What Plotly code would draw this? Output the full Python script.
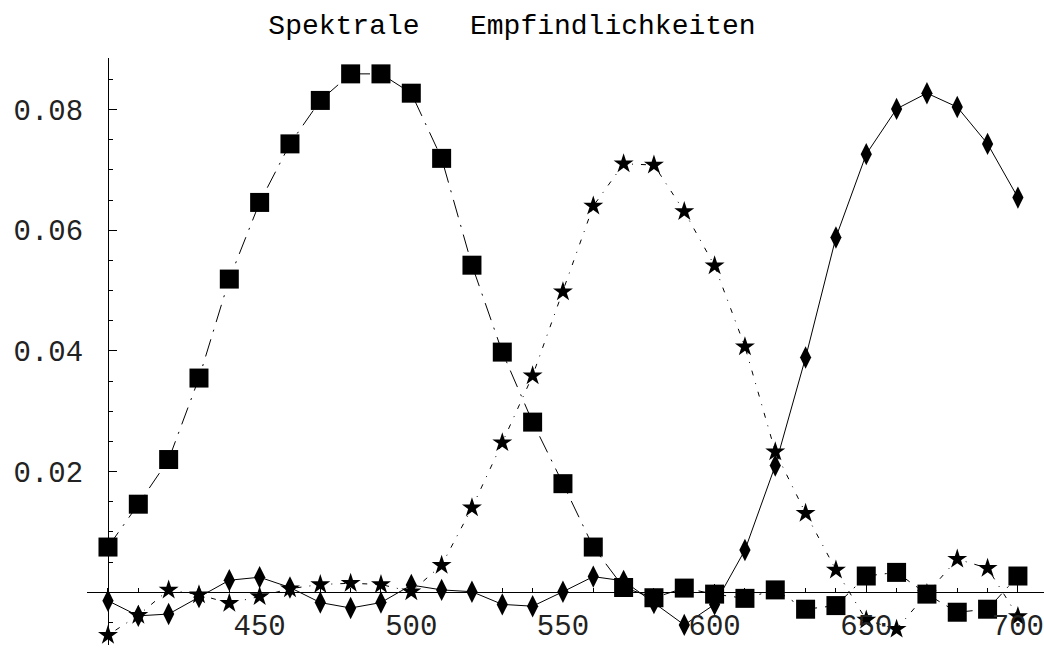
import plotly.graph_objects as go

# Wavelengths (nm)
wavelength = [400, 410, 420, 430, 440, 450, 460, 470, 480, 490, 500,
              510, 520, 530, 540, 550, 560, 570, 580, 590, 600,
              610, 620, 630, 640, 650, 660, 670, 680, 690, 700]

# Spectral sensitivity of the short-wavelength channel (squares)
sens_short = [0.0075, 0.0146, 0.0220, 0.0355, 0.0519, 0.0646, 0.0743, 0.0815, 0.0859, 0.0859, 0.0827,
              0.0719, 0.0542, 0.0398, 0.0282, 0.0180, 0.0075, 0.0008, -0.0009, 0.0007, -0.0003,
              -0.0010, 0.0004, -0.0028, -0.0022, 0.0027, 0.0033, -0.0003, -0.0033, -0.0028, 0.0027]

# Spectral sensitivity of the middle-wavelength channel (stars)
sens_mid = [-0.0071, -0.0038, 0.0004, -0.0004, -0.0018, -0.0007, 0.0006, 0.0013, 0.0015, 0.0013, 0.0001,
            0.0045, 0.0140, 0.0248, 0.0359, 0.0498, 0.0640, 0.0710, 0.0708, 0.0631, 0.0541,
            0.0407, 0.0233, 0.0131, 0.0037, -0.0046, -0.0061, -0.0002, 0.0055, 0.0040, -0.0040]

# Spectral sensitivity of the long-wavelength channel (diamonds)
sens_long = [-0.0014, -0.0039, -0.0036, -0.0008, 0.0020, 0.0025, 0.0008, -0.0017, -0.0026, -0.0017, 0.0012,
             0.0004, 0.0001, -0.0020, -0.0023, 0.0001, 0.0026, 0.0019, -0.0018, -0.0054, -0.0020,
             0.0070, 0.0210, 0.0389, 0.0588, 0.0726, 0.0801, 0.0827, 0.0804, 0.0743, 0.0654]

x_ticks = [450, 500, 550, 600, 650, 700]
y_ticks = [0.02, 0.04, 0.06, 0.08]
y_tick_text = ["0.02", "0.04", "0.06", "0.08"]

x_range = [393.08, 708.6]
y_range = [-0.00873, 0.08853]

tick_font = dict(family="Liberation Mono", size=29, color="#222222")

fig = go.Figure()

fig.add_trace(go.Scatter(
    x=wavelength, y=sens_short, mode="lines+markers",
    line=dict(color="black", width=1, dash="18px,8px,2px,8px"),
    marker=dict(symbol="square", size=19, color="black"),
    cliponaxis=False, showlegend=False,
))
fig.add_trace(go.Scatter(
    x=wavelength, y=sens_mid, mode="lines+markers",
    line=dict(color="black", width=1, dash="1px,8px,5px,8px"),
    marker=dict(symbol="star", size=15, color="black"),
    cliponaxis=False, showlegend=False,
))
fig.add_trace(go.Scatter(
    x=wavelength, y=sens_long, mode="lines+markers",
    line=dict(color="black", width=1),
    marker=dict(symbol="diamond-tall", size=16, color="black"),
    cliponaxis=False, showlegend=False,
))

x_pos = (0 - y_range[0]) / (y_range[1] - y_range[0])
y_pos = (400 - x_range[0]) / (x_range[1] - x_range[0])

fig.update_layout(
    width=1044, height=648,
    margin=dict(l=87, r=0, t=58, b=3, autoexpand=False),
    paper_bgcolor="white", plot_bgcolor="white",
    title=dict(
        text="Spektrale\u00a0\u00a0\u00a0Empfindlichkeiten",
        font=dict(family="Courier New, Liberation Mono, monospace", size=28, color="black"),
        x=512 / 1044, xanchor="center", xref="container",
        y=1 - 24 / 648, yanchor="middle", yref="container",
    ),
    xaxis=dict(
        range=x_range, showgrid=False, zeroline=False, automargin=False,
        anchor="free", position=x_pos,
        showline=True, linecolor="black", linewidth=1,
        tickvals=x_ticks, ticks="inside", ticklen=8, tickcolor="black",
        ticklabelstandoff=7, ticklabeloverflow="allow",
        tickfont=tick_font,
        minor=dict(dtick=10, tick0=400, ticks="inside", ticklen=4, tickcolor="black"),
    ),
    yaxis=dict(
        range=y_range, showgrid=False, zeroline=False, automargin=False,
        anchor="free", position=y_pos,
        showline=True, linecolor="black", linewidth=1,
        tickvals=y_ticks, ticktext=y_tick_text,
        ticks="inside", ticklen=8, tickcolor="black",
        ticklabelstandoff=19, ticklabeloverflow="allow",
        tickfont=tick_font,
        minor=dict(dtick=0.005, tick0=0, ticks="inside", ticklen=4, tickcolor="black"),
    ),
)

fig.write_html("out.html")
